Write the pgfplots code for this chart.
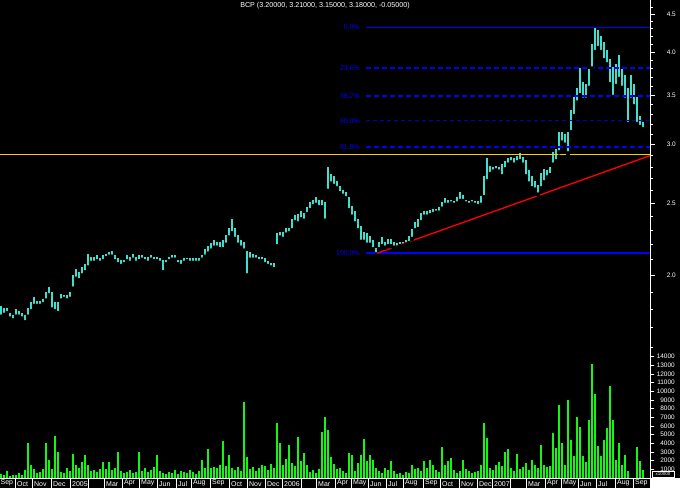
\documentclass[border=0pt]{standalone}
\usepackage{pgfplots}
\pgfplotsset{compat=1.18}
\usepackage{pgfplotstable}
\usepackage{fontspec}
\setmainfont{Liberation Sans}

\definecolor{turq}{RGB}{64,224,208}
\definecolor{volgreen}{RGB}{20,245,20}
\definecolor{fibblue}{RGB}{0,0,255}
\definecolor{gold}{RGB}{255,204,0}

\newcommand{\smallpix}{\fontsize{6.5}{7}\selectfont}

% price bars: x position, low, high
\pgfplotstableread{
x lo hi
1 1.76 1.82
4 1.77 1.81
7 1.78 1.81
10 1.75 1.78
13 1.74 1.77
16 1.76 1.80
19 1.76 1.79
22 1.75 1.78
25 1.73 1.77
28 1.76 1.81
31 1.79 1.84
34 1.82 1.87
37 1.82 1.85
40 1.82 1.85
43 1.83 1.86
46 1.85 1.90
49 1.88 1.93
52 1.80 1.90
55 1.79 1.84
58 1.78 1.84
61 1.85 1.89
64 1.86 1.88
67 1.85 1.88
70 1.86 1.90
73 1.92 2.00
76 1.98 2.04
79 1.97 2.02
82 2.00 2.05
85 2.02 2.07
88 2.05 2.14
91 2.08 2.12
94 2.08 2.12
97 2.09 2.13
100 2.08 2.11
103 2.09 2.13
106 2.11 2.14
109 2.12 2.15
112 2.12 2.16
115 2.09 2.13
118 2.07 2.11
121 2.06 2.10
124 2.07 2.10
127 2.09 2.13
130 2.08 2.12
133 2.10 2.14
136 2.08 2.12
139 2.09 2.13
142 2.10 2.13
145 2.09 2.12
148 2.08 2.12
151 2.10 2.13
154 2.09 2.12
157 2.09 2.12
160 2.08 2.11
163 2.02 2.10
166 2.07 2.10
169 2.09 2.12
172 2.10 2.13
175 2.10 2.13
178 2.07 2.10
181 2.06 2.10
184 2.08 2.11
187 2.09 2.11
190 2.08 2.11
193 2.08 2.11
196 2.08 2.11
199 2.08 2.11
202 2.10 2.13
205 2.12 2.17
208 2.14 2.19
211 2.16 2.21
214 2.18 2.23
217 2.18 2.22
220 2.17 2.22
223 2.17 2.23
226 2.20 2.27
229 2.25 2.32
232 2.28 2.38
235 2.24 2.32
238 2.20 2.27
241 2.18 2.23
244 2.16 2.22
247 2.00 2.16
250 2.10 2.15
253 2.10 2.14
256 2.10 2.13
259 2.09 2.12
262 2.09 2.12
265 2.07 2.11
268 2.06 2.09
271 2.05 2.08
274 2.04 2.08
277 2.19 2.28
280 2.25 2.29
283 2.24 2.29
286 2.27 2.32
289 2.28 2.32
292 2.30 2.38
295 2.36 2.41
298 2.35 2.42
301 2.38 2.44
304 2.37 2.43
307 2.42 2.47
310 2.45 2.51
313 2.48 2.53
316 2.49 2.55
319 2.47 2.53
322 2.47 2.53
325 2.37 2.51
328 2.60 2.80
331 2.66 2.74
334 2.64 2.72
337 2.62 2.68
340 2.58 2.64
343 2.56 2.61
346 2.54 2.59
349 2.45 2.55
352 2.40 2.48
355 2.35 2.44
358 2.30 2.38
361 2.22 2.33
364 2.22 2.29
367 2.20 2.28
370 2.20 2.26
373 2.17 2.23
376 2.13 2.18
379 2.17 2.22
382 2.19 2.25
385 2.18 2.22
388 2.19 2.24
391 2.19 2.24
394 2.18 2.22
397 2.18 2.21
400 2.19 2.22
403 2.19 2.22
406 2.20 2.23
409 2.21 2.26
412 2.24 2.31
415 2.30 2.36
418 2.31 2.38
421 2.36 2.43
424 2.40 2.44
427 2.40 2.44
430 2.41 2.45
433 2.42 2.46
436 2.43 2.46
439 2.43 2.47
442 2.46 2.51
445 2.49 2.54
448 2.49 2.53
451 2.50 2.53
454 2.49 2.52
457 2.50 2.55
460 2.52 2.59
463 2.52 2.57
466 2.50 2.53
469 2.49 2.52
472 2.50 2.53
475 2.49 2.52
478 2.48 2.52
481 2.49 2.56
484 2.55 2.72
487 2.68 2.88
490 2.74 2.81
493 2.76 2.80
496 2.77 2.81
499 2.76 2.80
502 2.72 2.83
505 2.78 2.85
508 2.82 2.88
511 2.84 2.89
514 2.82 2.88
517 2.84 2.90
520 2.85 2.92
523 2.82 2.89
526 2.72 2.86
529 2.66 2.77
532 2.62 2.72
535 2.61 2.68
538 2.57 2.65
541 2.62 2.75
544 2.67 2.78
547 2.71 2.77
550 2.73 2.80
553 2.82 2.93
556 2.85 2.96
559 2.93 3.12
562 3.02 3.12
565 3.00 3.10
568 2.92 3.12
571 3.12 3.34
574 3.28 3.48
577 3.42 3.58
580 3.50 3.81
583 3.45 3.65
586 3.45 3.62
589 3.58 3.80
592 3.80 4.10
595 4.00 4.31
598 4.05 4.28
601 4.00 4.20
604 3.90 4.12
607 3.85 4.02
610 3.62 3.92
613 3.48 3.82
616 3.60 3.85
619 3.68 3.96
622 3.58 3.80
625 3.45 3.72
628 3.20 3.58
631 3.45 3.72
634 3.38 3.62
637 3.20 3.48
640 3.17 3.28
643 3.15 3.22
}\price

% daily volume
\pgfplotstableread{
x v
1 500
4 300
7 800
10 200
13 400
16 300
19 600
22 400
25 900
28 4000
31 1500
34 1000
37 600
40 700
43 1000
46 4000
49 2100
52 1000
55 4900
58 3000
61 700
64 600
67 1200
70 800
73 2800
76 1500
79 1200
82 1800
85 2700
88 1500
91 800
94 900
97 700
100 1000
103 1800
106 1000
109 1800
112 900
115 1200
118 3000
121 800
124 600
127 700
130 900
133 600
136 700
139 3000
142 800
145 1100
148 700
151 900
154 1300
157 2600
160 800
163 600
166 500
169 700
172 600
175 900
178 500
181 800
184 700
187 600
190 900
193 700
196 500
199 800
202 2100
205 1100
208 3400
211 1200
214 1300
217 1100
220 1500
223 4300
226 1400
229 2700
232 1200
235 900
238 1300
241 800
244 8800
247 2400
250 1000
253 1300
256 800
259 1200
262 1500
265 1400
268 900
271 1600
274 1200
277 6300
280 4000
283 1500
286 2200
289 3800
292 1700
295 1400
298 4700
301 2000
304 2900
307 1500
310 700
313 900
316 600
319 1000
322 5300
325 7000
328 5500
331 2400
334 1600
337 1000
340 1200
343 800
346 600
349 2900
352 2700
355 800
358 1700
361 2700
364 4500
367 2000
370 2600
373 2100
376 1200
379 800
382 600
385 1200
388 900
391 2000
394 800
397 500
400 600
403 400
406 700
409 600
412 1500
415 1000
418 1200
421 800
424 2000
427 1100
430 2100
433 1500
436 900
439 700
442 3600
445 1500
448 2000
451 2300
454 900
457 600
460 800
463 2100
466 1000
469 800
472 600
475 700
478 800
481 1500
484 6300
487 4600
490 1200
493 900
496 1500
499 1800
502 1400
505 3000
508 3300
511 1200
514 800
517 2800
520 1000
523 1300
526 1700
529 900
532 2100
535 1500
538 1200
541 3800
544 1500
547 1300
550 1400
553 5200
556 3500
559 8400
562 4000
565 1500
568 9000
571 4400
574 2500
577 7000
580 5900
583 2500
586 1800
589 6700
592 13200
595 9700
598 3700
601 2500
604 4400
607 5800
610 10600
613 6700
616 2100
619 4000
622 1500
625 2700
628 800
637 3600
640 2000
643 900
}\vol

\begin{document}
\begin{tikzpicture}
\useasboundingbox (0,0) rectangle (680bp,488bp);
\fill[black] (0,0) rectangle (680bp,488bp);

% ---- price panel (log scale) ----
\begin{axis}[
  at={(0,138bp)}, anchor=south west, scale only axis,
  width=650bp, height=350bp,
  xmin=0, xmax=650,
  ymode=log, ymin=1.587, ymax=4.70,
  axis x line=none, axis y line*=right,
  axis line style={white, line width=0.8bp},
  ytick={2,2.5,3,3.5,4,4.5},
  yticklabels={2.0,2.5,3.0,3.5,4.0,4.5},
  minor ytick={1.6,1.7,1.8,1.9,2.1,2.2,2.3,2.4,2.6,2.7,2.8,2.9,3.1,3.2,3.3,3.4,3.6,3.7,3.8,3.9,4.1,4.2,4.3,4.4,4.6},
  tick align=outside, major tick length=5bp, minor tick length=3bp,
  tick style={white, line width=0.8bp},
  yticklabel style={white, font=\smallpix, anchor=east, inner sep=0pt, xshift=21bp},
]
\addplot[only marks, mark=none, forget plot,
  error bars/.cd, y dir=plus, y explicit, error mark=none,
  error bar style={turq, line width=2.4bp}]
  table[x=x, y=lo, y error expr=\thisrow{hi}-\thisrow{lo}] {\price};

% retracement levels
\addplot[fibblue, line width=1.3bp] coordinates {(366,4.32) (650,4.32)};
\addplot[fibblue, line width=1.8bp, dash pattern=on 5bp off 3bp] coordinates {(366,3.807) (650,3.807)};
\addplot[fibblue, line width=1.8bp, dash pattern=on 5bp off 3bp] coordinates {(366,3.489) (650,3.489)};
\addplot[fibblue!75!black, line width=1.2bp, dash pattern=on 4bp off 3bp] coordinates {(366,3.233) (650,3.233)};
\addplot[fibblue, line width=1.8bp, dash pattern=on 5bp off 3bp] coordinates {(366,2.976) (650,2.976)};
\addplot[fibblue, line width=1.3bp] coordinates {(366,2.145) (650,2.145)};
\node[fibblue, font=\fontsize{7}{8}\selectfont, anchor=east, inner sep=0pt] at (axis cs:360,4.32) {0.0\%};
\node[fibblue, font=\fontsize{7}{8}\selectfont, anchor=east, inner sep=0pt] at (axis cs:360,3.807) {23.6\%};
\node[fibblue, font=\fontsize{7}{8}\selectfont, anchor=east, inner sep=0pt] at (axis cs:360,3.489) {38.2\%};
\node[fibblue, font=\fontsize{7}{8}\selectfont, anchor=east, inner sep=0pt] at (axis cs:360,3.233) {50.0\%};
\node[fibblue, font=\fontsize{7}{8}\selectfont, anchor=east, inner sep=0pt] at (axis cs:360,2.976) {61.8\%};
\node[fibblue, font=\fontsize{7}{8}\selectfont, anchor=east, inner sep=0pt] at (axis cs:360,2.145) {100.0\%};

% support level and trend line
\addplot[gold, line width=1.3bp] coordinates {(0,2.913) (650,2.913)};
\addplot[red, line width=1.3bp] coordinates {(375,2.138) (650,2.90)};
\end{axis}

% ---- volume panel ----
\begin{axis}[
  at={(0,10bp)}, anchor=south west, scale only axis,
  width=650bp, height=128bp,
  xmin=0, xmax=650, ymin=0, ymax=14780,
  axis x line*=bottom, axis y line*=right,
  axis line style={white, line width=1bp},
  xtick=\empty,
  ytick={1000,2000,3000,4000,5000,6000,7000,8000,9000,10000,11000,12000,13000,14000},
  tick align=outside, major tick length=4bp,
  tick style={white, line width=0.8bp},
  yticklabel style={white, font=\smallpix, anchor=east, inner sep=0pt, xshift=21bp,
    /pgf/number format/1000 sep={}, /pgf/number format/assume math mode=true},
  scaled y ticks=false,
]
\addplot[ycomb, volgreen, line width=2.2bp, mark=none] table[x=x, y=v] {\vol};
\end{axis}

% ---- date strip ----
\begin{axis}[
  at={(0,0)}, anchor=south west, scale only axis,
  width=650bp, height=10bp,
  xmin=0, xmax=650, ymin=0, ymax=1,
  axis x line*=bottom, axis y line=none,
  x axis line style={draw=none},
  xtick={15,32,51,70,88,104,122,139,157,176,191,210,229,247,265,282,301,316,335,351,368,386,403,423,440,459,477,492,510,526,545,561,578,596,615,633,650},
  xticklabels={Oct,Nov,Dec,2005,,Mar,Apr,May,Jun,Jul,Aug,Sep,Oct,Nov,Dec,2006,,Mar,Apr,May,Jun,Jul,Aug,Sep,Oct,Nov,Dec,2007,,Mar,Apr,May,Jun,Jul,Aug,Sep,},
  tick align=inside, major tick length=10bp,
  tick style={white, line width=1bp},
  xticklabel style={white, font=\fontsize{7}{8}\selectfont, anchor=south west, inner sep=0pt, xshift=2bp, yshift=1.5bp},
  clip=false,
]
\node[white, font=\fontsize{7}{8}\selectfont, anchor=south west, inner sep=0pt] at (axis cs:0.5,0) [yshift=1.5bp] {Sep};
\end{axis}

\fill[white] (650bp,0) rectangle (680bp,10bp);
\draw[white, fill=black, line width=0.6bp] (652bp,10.5bp) rectangle (674bp,17bp);
\node[white, font=\fontsize{4.5}{5}\selectfont, inner sep=0pt] at (663bp,13.75bp) {x10000};

\node[white, font=\fontsize{7.2}{8}\selectfont, inner sep=0pt] at (325bp,482bp) {BCP (3.20000, 3.21000, 3.15000, 3.18000, -0.05000)};
\end{tikzpicture}
\end{document}
